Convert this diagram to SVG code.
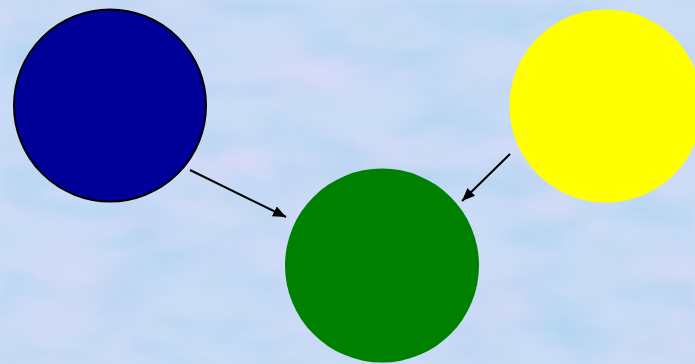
<svg xmlns="http://www.w3.org/2000/svg" width="695" height="364" viewBox="0 0 695 364">
<defs>
<style>
.conn{stroke:#000;stroke-width:2;fill:none;marker-end:url(#ah)}
filter{color-interpolation-filters:sRGB}
</style>
<marker id="ah" viewBox="0 0 12 10" refX="12" refY="5" markerWidth="6.5" markerHeight="5.5" orient="auto" markerUnits="strokeWidth">
<path d="M0,0 L12,5 L0,10 z" fill="#000"/>
</marker>
<filter id="tex" x="0" y="0" width="100%" height="100%" color-interpolation-filters="sRGB">
<feTurbulence type="fractalNoise" baseFrequency="0.01 0.025" numOctaves="3" seed="3" result="n"/>
<feColorMatrix in="n" type="matrix" values="0 0 0 0 0.69  0 0 0 0 0.83  0 0 0 0 0.94  0 0 0 2.0 -0.85" result="c"/>
<feGaussianBlur in="c" stdDeviation="2.5"/>
</filter>
<filter id="tex2" x="0" y="0" width="100%" height="100%" color-interpolation-filters="sRGB">
<feTurbulence type="fractalNoise" baseFrequency="0.008 0.015" numOctaves="2" seed="11" result="n"/>
<feColorMatrix in="n" type="matrix" values="0 0 0 0 0.85  0 0 0 0 0.85  0 0 0 0 0.97  0 0 0 2.0 -0.85" result="c"/>
<feGaussianBlur in="c" stdDeviation="3"/>
</filter>
</defs>
<rect width="695" height="364" fill="#cadcf6"/>
<rect width="695" height="364" fill="#fff" filter="url(#tex2)"/>
<rect width="695" height="364" fill="#fff" filter="url(#tex)"/>
<g id="connectors">
<line class="conn" x1="190" y1="170" x2="286" y2="217"/>
<line class="conn" x1="510" y1="154" x2="462" y2="201"/>
</g>
<g id="node-blue"><circle cx="110" cy="105.5" r="96" fill="#000099" stroke="#000" stroke-width="2"/></g>
<g id="node-green"><circle cx="382" cy="265.5" r="97" fill="#008000"/></g>
<g id="node-yellow"><circle cx="606" cy="106" r="96.5" fill="#ffff00"/></g>
</svg>
